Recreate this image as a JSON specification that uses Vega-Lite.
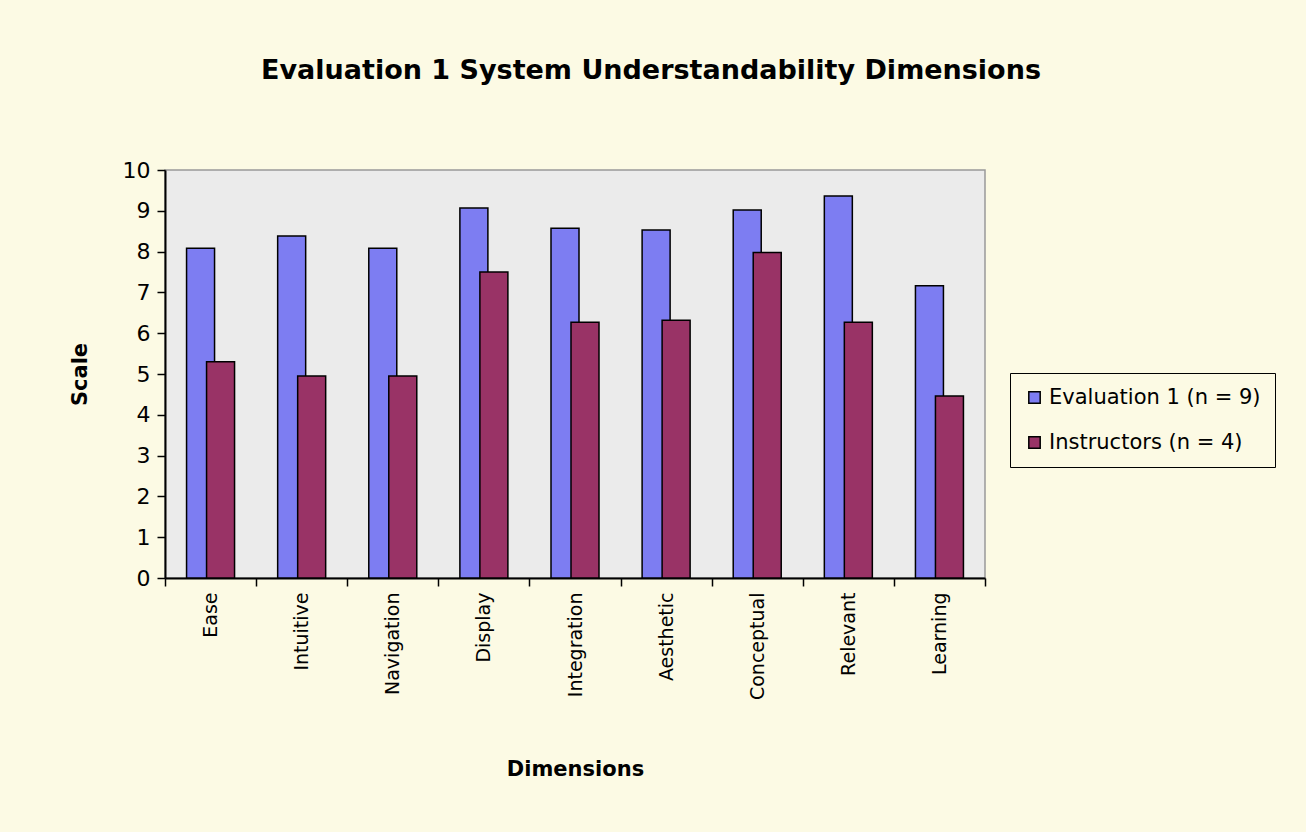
{
  "$schema": "https://vega.github.io/schema/vega-lite/v6.json",
  "width": 820,
  "height": 408,
  "autosize": {"type": "none"},
  "padding": {"left": 165, "top": 170, "right": 321, "bottom": 254},
  "background": "#fcfae4",
  "config": {
    "font": "DejaVu Sans",
    "view": {"fill": "#ebebeb", "stroke": "#999999", "strokeWidth": 1.5}
  },
  "title": {
    "text": "Evaluation 1 System Understandability Dimensions",
    "fontSize": 27,
    "fontWeight": "bold",
    "color": "black",
    "anchor": "middle",
    "frame": "group",
    "dx": 76,
    "offset": 74
  },
  "data": {
    "values": [
      {"dim": "Ease", "series": "Evaluation 1 (n = 9)", "value": 8.08},
      {"dim": "Intuitive", "series": "Evaluation 1 (n = 9)", "value": 8.38},
      {"dim": "Navigation", "series": "Evaluation 1 (n = 9)", "value": 8.08},
      {"dim": "Display", "series": "Evaluation 1 (n = 9)", "value": 9.07},
      {"dim": "Integration", "series": "Evaluation 1 (n = 9)", "value": 8.57},
      {"dim": "Aesthetic", "series": "Evaluation 1 (n = 9)", "value": 8.53},
      {"dim": "Conceptual", "series": "Evaluation 1 (n = 9)", "value": 9.02},
      {"dim": "Relevant", "series": "Evaluation 1 (n = 9)", "value": 9.36},
      {"dim": "Learning", "series": "Evaluation 1 (n = 9)", "value": 7.16},
      {"dim": "Ease", "series": "Instructors (n = 4)", "value": 5.3},
      {"dim": "Intuitive", "series": "Instructors (n = 4)", "value": 4.95},
      {"dim": "Navigation", "series": "Instructors (n = 4)", "value": 4.95},
      {"dim": "Display", "series": "Instructors (n = 4)", "value": 7.5},
      {"dim": "Integration", "series": "Instructors (n = 4)", "value": 6.27},
      {"dim": "Aesthetic", "series": "Instructors (n = 4)", "value": 6.32},
      {"dim": "Conceptual", "series": "Instructors (n = 4)", "value": 7.98},
      {"dim": "Relevant", "series": "Instructors (n = 4)", "value": 6.27},
      {"dim": "Learning", "series": "Instructors (n = 4)", "value": 4.46}
    ]
  },
  "encoding": {
    "x": {
      "field": "dim",
      "type": "nominal",
      "sort": null,
      "scale": {"paddingInner": 0, "paddingOuter": 0},
      "axis": {
        "title": "Dimensions",
        "titleFontSize": 21,
        "titleFontWeight": "bold",
        "titleColor": "black",
        "titlePadding": 59,
        "labelAngle": -90,
        "labelFontSize": 19,
        "labelColor": "black",
        "labelPadding": 6,
        "tickBand": "extent",
        "tickSize": 8,
        "tickColor": "black",
        "tickWidth": 1.5,
        "domainColor": "black",
        "domainWidth": 2
      }
    },
    "y": {
      "field": "value",
      "type": "quantitative",
      "scale": {"domain": [0, 10], "nice": false},
      "axis": {
        "title": "Scale",
        "titleFontSize": 21,
        "titleFontWeight": "bold",
        "titleColor": "black",
        "titlePadding": 32,
        "values": [0, 1, 2, 3, 4, 5, 6, 7, 8, 9, 10],
        "labelFontSize": 22,
        "labelColor": "black",
        "labelPadding": 7,
        "grid": false,
        "tickSize": 8,
        "tickColor": "black",
        "tickWidth": 1.5,
        "domainColor": "black",
        "domainWidth": 2
      }
    },
    "color": {
      "field": "series",
      "type": "nominal",
      "scale": {
        "domain": ["Evaluation 1 (n = 9)", "Instructors (n = 4)"],
        "range": ["#7d7df2", "#993366"]
      },
      "legend": {
        "title": null,
        "orient": "none",
        "legendX": 845,
        "legendY": 203,
        "strokeColor": "black",
        "fillColor": "#fcfae4",
        "padding": 14,
        "symbolType": "square",
        "symbolSize": 130,
        "symbolStrokeColor": "black",
        "symbolStrokeWidth": 1.5,
        "labelFontSize": 21,
        "labelColor": "black",
        "labelOffset": 4,
        "rowPadding": 23,
        "labelLimit": 400
      }
    }
  },
  "layer": [
    {
      "transform": [{"filter": "datum.series === 'Evaluation 1 (n = 9)'"}],
      "mark": {"type": "bar", "width": 28, "xOffset": -10, "stroke": "black", "strokeWidth": 1.5, "opacity": 1}
    },
    {
      "transform": [{"filter": "datum.series === 'Instructors (n = 4)'"}],
      "mark": {"type": "bar", "width": 28, "xOffset": 10, "stroke": "black", "strokeWidth": 1.5, "opacity": 1}
    }
  ]
}
